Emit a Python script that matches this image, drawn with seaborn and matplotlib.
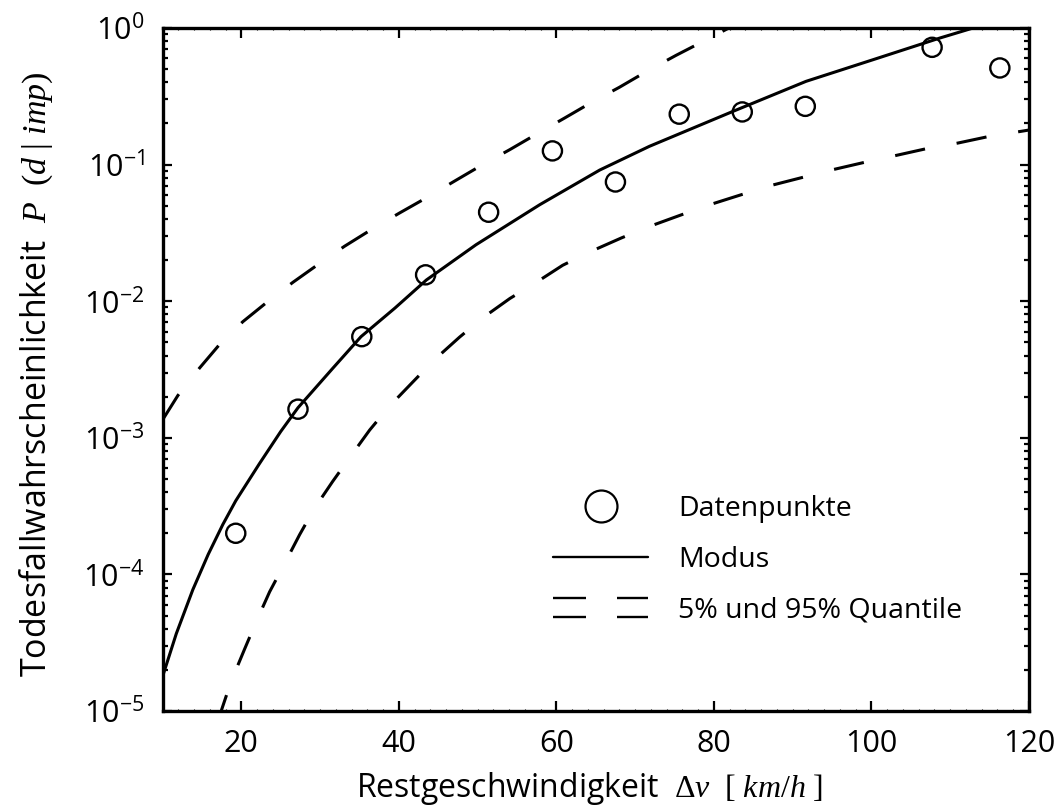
import numpy as np
import pandas as pd
import matplotlib
matplotlib.use("Agg")
import matplotlib.pyplot as plt
import seaborn as sns
from matplotlib.lines import Line2D
from matplotlib.legend_handler import HandlerBase
from matplotlib.ticker import FixedLocator, LogLocator, FuncFormatter, NullFormatter, MultipleLocator

# ---------------- data ----------------
pts_x = [19.3, 27.2, 35.3, 43.4, 51.4, 59.5, 67.5, 75.6, 83.6, 91.6, 107.7, 116.3]
pts_y = [2.0e-4, 1.62e-3, 5.5e-3, 0.0156, 0.0448, 0.126, 0.0746, 0.234, 0.243, 0.267, 0.722, 0.51]

mode_x = [10.0, 11.75, 13.85, 15.8, 17.66, 19.3, 22.3, 25.0, 27.2, 31.6, 35.2, 39.5, 43.5, 49.8,
          57.9, 65.5, 71.8, 82.4, 91.7, 100.2, 108.7, 112.9]
mode_y = [1.78e-5, 3.68e-5, 7.73e-5, 1.40e-4, 2.32e-4, 3.46e-4, 6.46e-4, 1.11e-3, 1.66e-3,
          3.22e-3, 5.50e-3, 8.9e-3, 0.0143, 0.0259, 0.0509, 0.0912, 0.136, 0.245, 0.407, 0.586,
          0.845, 1.0]

q95_x = [10.0, 11.95, 14.7, 17.2, 20.2, 23.2, 26.55, 29.7, 33.1, 36.5, 40.1, 43.5, 47.1, 50.5,
         54.1, 57.5, 61.05, 64.6, 68.0, 71.6, 75.2, 78.8, 81.9]
q95_y = [1.35e-3, 2.04e-3, 3.24e-3, 4.79e-3, 7.08e-3, 9.77e-3, 0.01374, 0.01849, 0.02523, 0.03342,
         0.04426, 0.05715, 0.07586, 0.09886, 0.1288, 0.1675, 0.2193, 0.2884, 0.3681, 0.4864,
         0.631, 0.8072, 1.0]

q05_x = [17.2, 17.5, 18.7, 20.4, 21.9, 23.6, 25.5, 27.4, 29.3, 31.6, 34.0, 36.3, 38.8, 41.8, 44.5,
         47.7, 50.7, 54.1, 57.5, 60.8, 64.4, 68.25, 71.85, 75.9, 79.5, 83.5, 87.3, 91.3, 95.1,
         99.15, 102.95, 107.0, 111.0, 115.0, 119.05, 120.0]
q05_y = [7.94e-6, 1.02e-5, 1.64e-5, 2.82e-5, 4.51e-5, 7.46e-5, 1.20e-4, 1.95e-4, 3.05e-4, 4.79e-4,
         7.48e-4, 1.14e-3, 1.70e-3, 2.57e-3, 3.72e-3, 5.45e-3, 7.59e-3, 0.01047, 0.01380, 0.01832,
         0.02317, 0.02904, 0.03532, 0.04295, 0.05093, 0.06026, 0.07047, 0.08072, 0.09183, 0.1040,
         0.1161, 0.1309, 0.1439, 0.1611, 0.1754, 0.1791]

x_ticks = [20, 40, 60, 80, 100, 120]
y_exponents = [-5, -4, -3, -2, -1, 0]
legend_labels = ["Datenpunkte", "Modus", "5% und 95% Quantile"]
x_label = r"Restgeschwindigkeit  $\Delta v\ \ [\ km/h\ ]$"
y_label = r"Todesfallwahrscheinlichkeit  $P\ \ (d\ |\ imp)$"

# ---------------- style ----------------
sns.set_theme(style="ticks")
plt.rcParams["font.family"] = ["Open Sans", "DejaVu Sans"]
plt.rcParams["mathtext.fontset"] = "custom"
plt.rcParams["mathtext.rm"] = "Liberation Serif"
plt.rcParams["mathtext.it"] = "Liberation Serif:italic"
plt.rcParams["mathtext.sf"] = "Open Sans"
plt.rcParams["mathtext.bf"] = "Liberation Serif:bold"
for k in ["text.color", "axes.labelcolor", "xtick.color", "ytick.color", "axes.edgecolor"]:
    plt.rcParams[k] = "black"

W, H = 1059, 811
fig = plt.figure(figsize=(W / 100, H / 100), dpi=100)
L, R, T, B = 162.5, 1029, 28, 711
ax = fig.add_axes([L / W, 1 - B / H, (R - L) / W, (B - T) / H])
ax.set_yscale("log")

LW = 2.2
dash = (0, (10, 10.5))

df_mode = pd.DataFrame({"x": mode_x, "y": mode_y})
df_q95 = pd.DataFrame({"x": q95_x, "y": q95_y})
df_q05 = pd.DataFrame({"x": q05_x, "y": q05_y})
df_pts = pd.DataFrame({"x": pts_x, "y": pts_y})

sns.lineplot(data=df_mode, x="x", y="y", ax=ax, color="black", lw=LW, estimator=None, sort=False)
sns.lineplot(data=df_q95, x="x", y="y", ax=ax, color="black", lw=LW, estimator=None, sort=False, linestyle=dash)
sns.lineplot(data=df_q05, x="x", y="y", ax=ax, color="black", lw=LW, estimator=None, sort=False, linestyle=dash)
sns.scatterplot(data=df_pts, x="x", y="y", ax=ax, marker="o", s=190, facecolors="none",
                edgecolor="black", linewidth=1.7, zorder=5)

ax.set_xlim(10, 120)
ax.set_ylim(1e-5, 1e0)

# ticks
ax.xaxis.set_major_locator(FixedLocator(x_ticks))
ax.xaxis.set_minor_locator(MultipleLocator(2))
ax.yaxis.set_major_locator(FixedLocator([10.0 ** e for e in y_exponents]))
ax.yaxis.set_minor_locator(LogLocator(base=10, subs=np.arange(2, 10), numticks=20))
ax.yaxis.set_minor_formatter(NullFormatter())
ax.yaxis.set_major_formatter(FuncFormatter(lambda v, p: r"$\mathsf{10^{%d}}$" % int(round(np.log10(v)))))
ax.xaxis.set_major_formatter(FuncFormatter(lambda v, p: "%d" % v))

ax.tick_params(axis="both", which="both", direction="in", top=True, right=True, colors="black")
ax.tick_params(axis="x", which="major", length=7, width=1.6, labelsize=22, pad=13)
ax.tick_params(axis="x", which="minor", length=1.5, width=0.8)
ax.tick_params(axis="y", which="major", length=6.5, width=1.6, labelsize=22, pad=13)
ax.tick_params(axis="y", which="minor", length=3.5, width=1.6)
for s in ax.spines.values():
    s.set_linewidth(2.4)
    s.set_color("black")

ax.set_xlabel(x_label, fontsize=23)
ax.set_ylabel(y_label, fontsize=24.5)
ax.xaxis.set_label_coords(0.493, -0.087)
ax.yaxis.set_label_coords(-0.124, 0.493)

# ---------------- legend ----------------
class HandlerDoubleDash(HandlerBase):
    def create_artists(self, legend, orig_handle, xdescent, ydescent, width, height, fontsize, trans):
        yc = height / 2 - ydescent
        x0 = -xdescent
        arts = []
        for dy in (6.8, -6.8):
            for a, b in ((0.0, 0.345), (0.67, 1.0)):
                ln = Line2D([x0 + a * width, x0 + b * width], [yc + dy, yc + dy],
                            color="black", lw=1.7, solid_capstyle="butt")
                ln.set_transform(trans)
                arts.append(ln)
        return arts

h_pts = Line2D([], [], marker="o", ls="none", markersize=23, markerfacecolor="none",
               markeredgecolor="black", markeredgewidth=1.6)
h_mode = Line2D([], [], color="black", lw=1.7)
h_q = Line2D([], [], color="black", lw=1.7, ls="--")

leg = ax.legend([h_pts, h_mode, h_q], legend_labels, loc="upper left",
                bbox_to_anchor=(553 / W, 1 - 495 / H), bbox_transform=fig.transFigure,
                frameon=False, fontsize=20.5, handlelength=3.34, handletextpad=1.05,
                labelspacing=0.8, borderpad=0, borderaxespad=0,
                handler_map={h_q: HandlerDoubleDash()})

fig.savefig("out.png", dpi=100)
